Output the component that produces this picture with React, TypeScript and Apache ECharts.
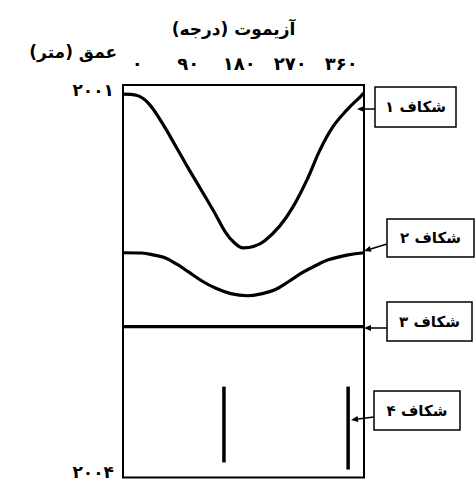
import React, { useEffect, useRef } from "react";
import * as echarts from "echarts";

// Azimuth tick values and labels (degrees)
const xTickValues = [0, 90, 180, 270, 360];
const xTickLabels = ["۰", "۹۰", "۱۸۰", "۲۷۰", "۳۶۰"];
// Depth tick values and labels (m)
const yTickValues = [2001, 2004];
const yTickLabels = ["۲۰۰۱", "۲۰۰۴"];

const xTitle = "\u200Fآزیموت (درجه)\u200F";
const yTitle = "\u200Fعمق (متر)\u200F";
const fractureNames = ["شکاف ۱", "شکاف ۲", "شکاف ۳", "شکاف ۴"];

// Fracture 1 trace (azimuth, depth)
const frac1Az = [-25, 0, 20, 44, 67, 90, 114, 137, 155, 170, 187, 205, 225, 252, 275, 300, 322, 345, 370, 393, 400];
const frac1Depth = [2001.069, 2001.08, 2001.14, 2001.29, 2001.46, 2001.635, 2001.81, 2001.98, 2002.12, 2002.2, 2002.245, 2002.235, 2002.19, 2002.075, 2001.93, 2001.72, 2001.5, 2001.32, 2001.19, 2001.092, 2001.061];
// Fracture 2 trace
const frac2Az = [-25, 8, 30, 49, 70, 90, 115, 137, 165, 195, 220, 243, 268, 291, 315, 337, 372, 400];
const frac2Depth = [2002.282, 2002.284, 2002.3, 2002.321, 2002.37, 2002.427, 2002.5, 2002.55, 2002.595, 2002.611, 2002.595, 2002.565, 2002.5, 2002.435, 2002.38, 2002.336, 2002.298, 2002.282];
// Fracture 3 (horizontal)
const frac3Az = [-25, 400];
const frac3Depth = [2002.847, 2002.847];
// Fracture 4 (two vertical traces)
const frac4aAz = [153, 153];
const frac4aDepth = [2003.305, 2003.885];
const frac4bAz = [372, 372];
const frac4bDepth = [2003.305, 2003.939];

const FONT = "DejaVu Sans";

function pairs(a: number[], d: number[]) {
  return a.map((v, i) => [v, d[i]]);
}

function arrow(x1: number, y1: number, x2: number, y2: number) {
  const dx = x2 - x1;
  const dy = y2 - y1;
  const len = Math.sqrt(dx * dx + dy * dy);
  const ux = dx / len;
  const uy = dy / len;
  const hl = 7;
  const hw = 3;
  const bx = x2 - ux * hl;
  const by = y2 - uy * hl;
  return [
    {
      type: "line",
      shape: { x1, y1, x2: bx, y2: by },
      style: { stroke: "#000", lineWidth: 1.5 },
      z: 10,
    },
    {
      type: "polygon",
      shape: {
        points: [
          [x2, y2],
          [bx - uy * hw, by + ux * hw],
          [bx + uy * hw, by - ux * hw],
        ],
      },
      style: { fill: "#000" },
      z: 10,
    },
  ];
}

function labelBox(name: string, x: number, y: number, w: number, h: number) {
  return [
    {
      type: "rect",
      shape: { x, y, width: w, height: h },
      style: { fill: "#fff", stroke: "#000", lineWidth: 1.5 },
      z: 10,
    },
    {
      type: "text",
      x: x + w / 2,
      y: y + h / 2,
      style: {
        text: "\u200F" + name + "\u200F",
        fill: "#000",
        font: `bold 15px "${FONT}"`,
        align: "center",
        verticalAlign: "middle",
      },
      z: 11,
    },
  ];
}

export default function App() {
  const ref = useRef<HTMLDivElement>(null);

  useEffect(() => {
    if (!ref.current) return;
    const chart = echarts.init(ref.current, undefined, { renderer: "svg" });
    const lineStyle = { color: "#000", width: 3.2 };
    const base = {
      type: "line",
      symbol: "none",
      lineStyle,
      itemStyle: { color: "#000" },
      clip: false,
    };
    chart.setOption({
      animation: false,
      backgroundColor: "#fff",
      grid: {
        left: 123,
        right: 112,
        top: 85,
        bottom: 2,
        show: true,
        borderColor: "#000",
        borderWidth: 2,
        backgroundColor: "transparent",
      },
      xAxis: {
        type: "value",
        position: "top",
        min: -25,
        max: 400,
        name: xTitle,
        nameLocation: "middle",
        nameGap: 48,
        nameTextStyle: {
          fontFamily: FONT,
          fontWeight: "bold",
          fontSize: 17,
          color: "#000",
          padding: [0, 20, 0, 0],
        },
        axisLine: { show: false },
        axisTick: { show: false },
        splitLine: { show: false },
        axisLabel: {
          customValues: xTickValues,
          formatter: (v: number) => xTickLabels[xTickValues.indexOf(v)] ?? "",
          fontFamily: FONT,
          fontWeight: "bold",
          fontSize: 18,
          color: "#000",
          margin: 13,
        },
      },
      yAxis: {
        type: "value",
        inverse: true,
        min: 2001,
        max: 2004,
        name: yTitle,
        nameLocation: "start",
        nameGap: 33,
        nameTextStyle: {
          fontFamily: FONT,
          fontWeight: "bold",
          fontSize: 17,
          color: "#000",
          align: "right",
          verticalAlign: "middle",
          padding: [0, 20, 0, 0],
        },
        axisLine: { show: false },
        axisTick: { show: false },
        splitLine: { show: false },
        axisLabel: {
          customValues: yTickValues,
          formatter: (v: number) => {
            const i = yTickValues.indexOf(v);
            return i === 0 ? `{top|${yTickLabels[0]}}` : `{bot|${yTickLabels[i]}}`;
          },
          margin: 9,
          rich: {
            top: {
              fontFamily: FONT,
              fontWeight: "bold",
              fontSize: 17,
              color: "#000",
              padding: [10, 0, 0, 0],
            },
            bot: {
              fontFamily: FONT,
              fontWeight: "bold",
              fontSize: 17,
              color: "#000",
              padding: [0, 0, 12, 0],
            },
          },
        },
      },
      series: [
        { ...base, name: fractureNames[0], smooth: 0.4, data: pairs(frac1Az, frac1Depth) },
        { ...base, name: fractureNames[1], smooth: 0.4, data: pairs(frac2Az, frac2Depth) },
        { ...base, name: fractureNames[2], data: pairs(frac3Az, frac3Depth) },
        { ...base, name: fractureNames[3], data: pairs(frac4aAz, frac4aDepth), lineStyle: { color: "#000", width: 3.5 } },
        { ...base, name: fractureNames[3], data: pairs(frac4bAz, frac4bDepth), lineStyle: { color: "#000", width: 3.5 } },
      ],
      graphic: [
        ...labelBox(fractureNames[0], 375, 87, 81, 40),
        ...arrow(375, 109, 357, 109),
        ...labelBox(fractureNames[1], 387, 219, 87, 38),
        ...arrow(387, 244, 364, 251),
        ...labelBox(fractureNames[2], 387, 302, 85, 39),
        ...arrow(387, 328, 364, 328),
        ...labelBox(fractureNames[3], 374, 391, 86, 39),
        ...arrow(374, 417, 351, 420),
      ],
    });
    return () => chart.dispose();
  }, []);

  return (
    <div
      ref={ref}
      style={{ position: "fixed", left: 0, top: 0, width: 476, height: 480, background: "#fff" }}
    />
  );
}
